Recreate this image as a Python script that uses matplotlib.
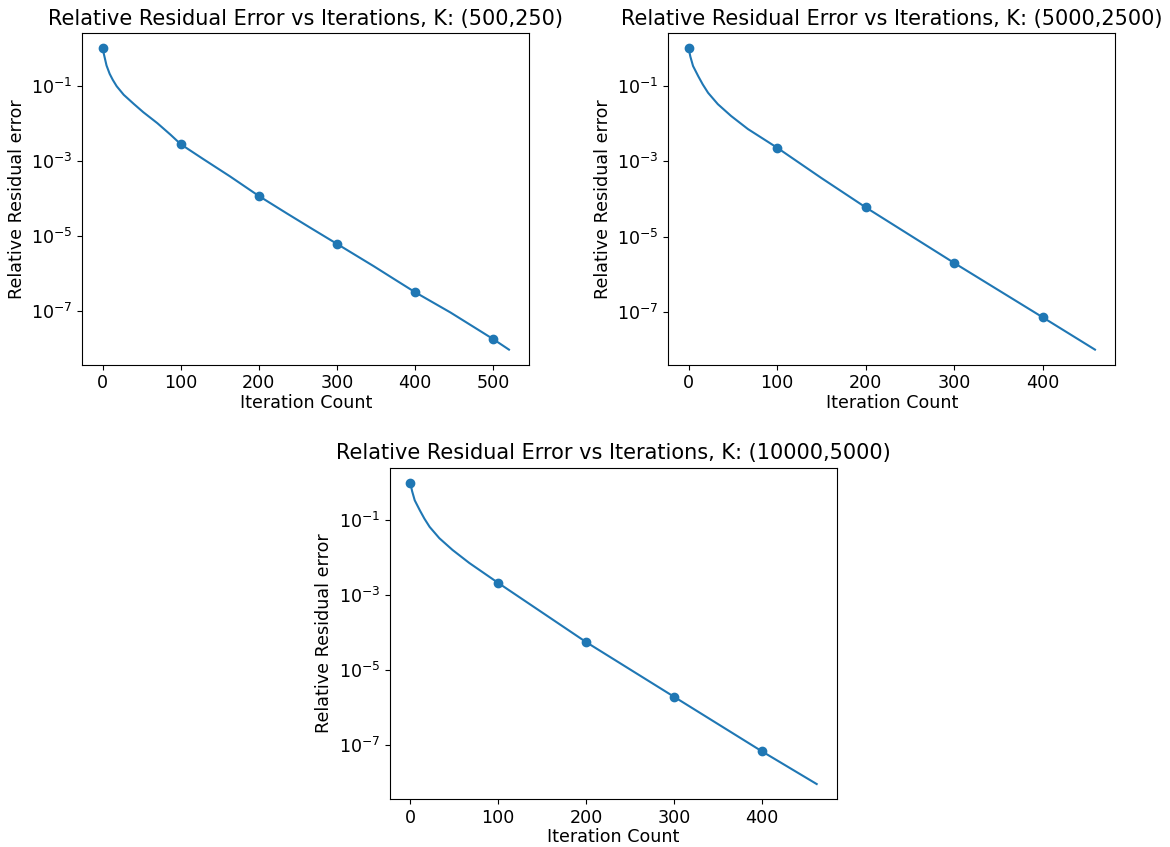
import matplotlib
matplotlib.use("Agg")
import matplotlib.pyplot as plt

# values (iteration, relative residual)
iters_k500 = [0, 2, 5, 9, 13, 18, 27, 40, 52, 70, 87, 100, 129, 163, 200,
              236, 266, 300, 347, 373, 400, 445, 475, 500, 520]
resid_k500 = [1.0, 0.65, 0.35, 0.21, 0.145, 0.098, 0.058, 0.033, 0.020,
              0.0102, 0.0050, 0.0028, 1.12e-3, 3.9e-4, 1.17e-4, 4.0e-5,
              1.66e-5, 6.2e-6, 1.58e-6, 7.2e-7, 3.2e-7, 9.3e-8, 3.8e-8,
              1.8e-8, 9.5e-9]

iters_k5000 = [0, 2, 5, 11, 16, 22, 33, 48, 67, 100, 150, 200, 300, 400, 459]
resid_k5000 = [1.0, 0.60, 0.34, 0.18, 0.11, 0.066, 0.033, 0.016, 0.0072,
               0.0023, 3.6e-4, 6.0e-5, 2.0e-6, 7.2e-8, 1.0e-8]

iters_k10000 = [0, 2, 5, 11, 16, 22, 33, 48, 67, 100, 150, 200, 300, 400, 462]
resid_k10000 = [1.0, 0.60, 0.34, 0.18, 0.11, 0.066, 0.033, 0.016, 0.0072,
                0.0021, 3.4e-4, 5.5e-5, 1.9e-6, 6.6e-8, 8.9e-9]

titles = ["(500,250)", "(5000,2500)", "(10000,5000)"]
marker_iters = [0, 100, 200, 300, 400, 500]
ytick_vals = [1e-1, 1e-3, 1e-5, 1e-7]

TITLE_SIZE = 15
LABEL_SIZE = 12.6

fig = plt.figure(figsize=(11.7, 8.47), dpi=100)
W, H = 1170, 847
boxes = [(82.3, 33.3), (668.3, 33.3), (390, 467.7)]
aw, ah = 447, 331.4

series = [(iters_k500, resid_k500), (iters_k5000, resid_k5000),
          (iters_k10000, resid_k10000)]

for (x0, y0), (xs, ys), tt in zip(boxes, series, titles):
    ax = fig.add_axes([x0 / W, 1 - (y0 + ah) / H, aw / W, ah / H])
    marks = [i for i, v in enumerate(xs) if v in marker_iters]
    ax.plot(xs, ys, color="C0", marker="o", markevery=marks, markersize=6)
    ax.set_yscale("log")
    ax.set_yticks(ytick_vals)
    ax.minorticks_off()
    ax.set_title("Relative Residual Error vs Iterations, K: " + tt,
                 fontsize=TITLE_SIZE)
    ax.set_xlabel("Iteration Count", fontsize=LABEL_SIZE, labelpad=1)
    ax.set_ylabel("Relative Residual error", fontsize=LABEL_SIZE)
    ax.tick_params(labelsize=LABEL_SIZE)

fig.savefig("out.png", dpi=100)
